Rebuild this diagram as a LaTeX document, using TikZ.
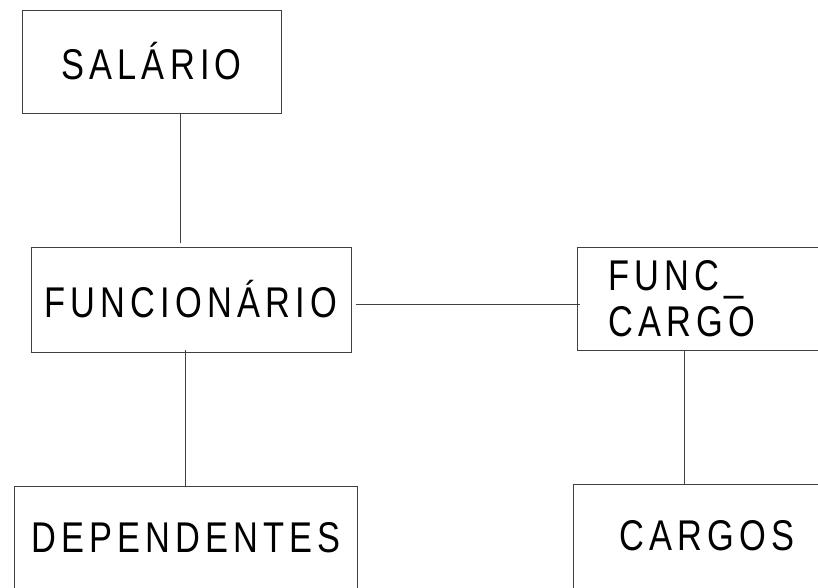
\documentclass[tikz,border=0pt]{standalone}
\usepackage{fontspec}
\setmainfont{Liberation Sans}
\newfontfamily\lblfont[FakeStretch=0.8,LetterSpace=12]{Liberation Sans}
\begin{document}
\begin{tikzpicture}[x=1pt,y=-1pt,
  box/.style={draw=black!75, line width=1pt, inner sep=0pt, font=\lblfont\fontsize{43}{46}\selectfont},
  link/.style={draw=black!75, line width=1pt}]
\useasboundingbox (0,0) rectangle (818,587);
\clip (0,0) rectangle (818,587);
\fill[white] (0,0) rectangle (818,587);
\node[box, minimum width=259pt, minimum height=103pt] (sal) at (151.5,61.5) {SALÁRIO};
\node[box, minimum width=320pt, minimum height=105pt] (fun) at (191,299.5) {FUNCIONÁRIO};
\node[box, minimum height=103pt, inner xsep=31pt, text width=250pt, align=left, anchor=west] (fc) at (577,298.5) {FUNC\_\\CARGO};
\node[box, minimum width=343pt, minimum height=104pt] (dep) at (186,538) {DEPENDENTES};
\node[box, minimum width=268pt, minimum height=104pt] (car) at (707,536) {CARGOS};
\draw[link] ([xshift=28.5pt]sal.south) -- ([xshift=28.5pt,yshift=4pt]sal.south |- fun.north);
\draw[link] ([xshift=4pt,yshift=-5pt]fun.east) -- ([xshift=3pt,yshift=-5pt]fun.east -| fc.west);
\draw[link] ([xshift=-6pt,yshift=3pt]fun.south) -- ([xshift=-6pt]fun.south |- dep.north);
\draw[link] ([xshift=107pt]fc.south west) -- ([xshift=107pt]fc.south west |- car.north);
\end{tikzpicture}
\end{document}
